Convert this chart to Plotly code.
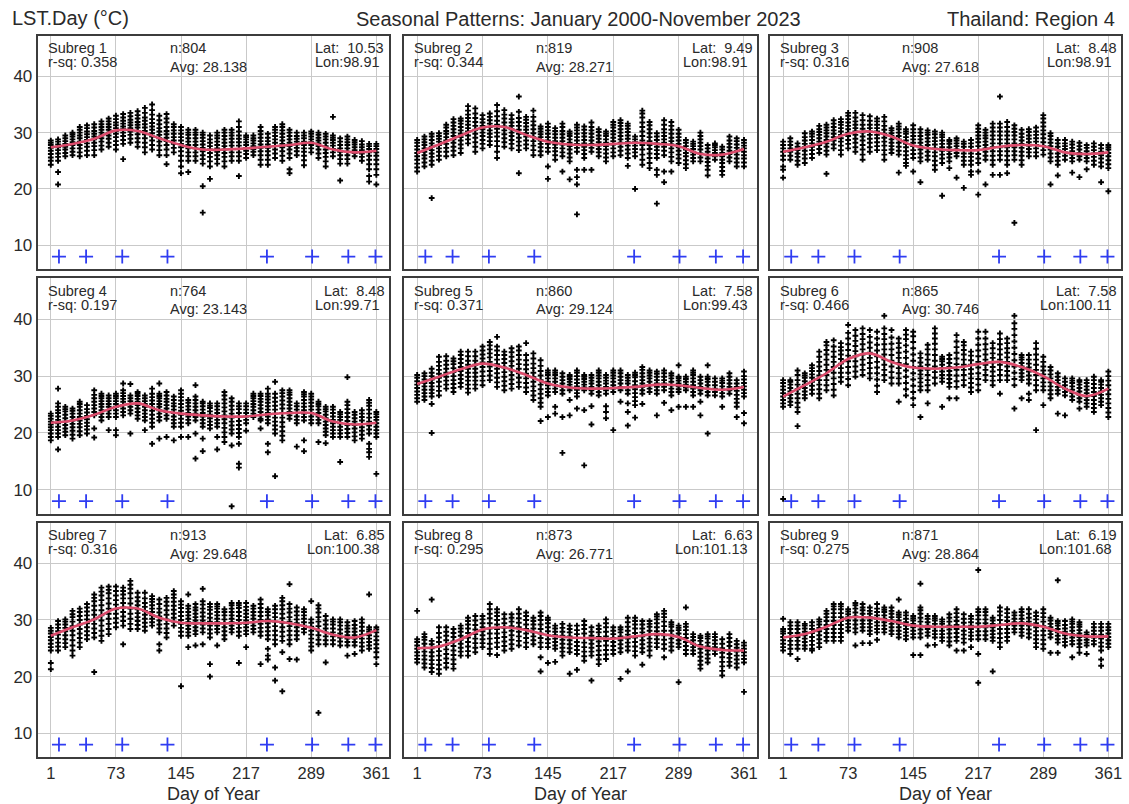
import sys
import plotly.graph_objects as go

W, H = 1129, 804

# ---------------- data ----------------
DAYS = [1, 9, 17, 25, 33, 41, 49, 57, 65, 73, 81, 89, 97, 105, 113, 121, 129, 137, 145, 153,
        161, 169, 177, 185, 193, 201, 209, 217, 225, 233, 241, 249, 257, 265, 273, 281, 289,
        297, 305, 313, 321, 329, 337, 345, 353, 361]
X_TICKS = [1, 73, 145, 217, 289, 361]
Y_TICKS = [10, 20, 30, 40]
CURVE_DAYS = [1, 25, 49, 73, 97, 121, 145, 169, 193, 217, 241, 265, 289, 313, 337, 361]
MARK_DAYS = [10, 40, 80, 130, 240, 290, 330, 360]
MARK_LEVEL = [8, 8, 8, 8, 8, 8, 8, 8]

SUBREG = ["Subreg 1", "Subreg 2", "Subreg 3", "Subreg 4", "Subreg 5", "Subreg 6", "Subreg 7", "Subreg 8", "Subreg 9"]
N_OBS = [804, 819, 908, 764, 860, 865, 913, 873, 871]
RSQ = ["0.358", "0.344", "0.316", "0.197", "0.371", "0.466", "0.316", "0.295", "0.275"]
AVG = ["28.138", "28.271", "27.618", "23.143", "29.124", "30.746", "29.648", "26.771", "28.864"]
LAT = ["10.53", "9.49", "8.48", "8.48", "7.58", "7.58", "6.85", "6.63", "6.19"]
LON = ["98.91", "98.91", "98.91", "99.71", "99.43", "100.11", "100.38", "101.13", "101.68"]

CURVE_1 = [27.4, 28.0, 28.9, 30.4, 30.3, 29.0, 27.8, 27.0, 27.0, 27.2, 27.5, 27.8, 28.2, 27.0, 26.5, 26.8]
CURVE_2 = [26.4, 27.9, 29.5, 30.9, 31.0, 29.6, 28.4, 27.9, 27.8, 28.0, 28.2, 28.0, 27.6, 26.2, 26.1, 27.1]
CURVE_3 = [26.6, 27.4, 28.4, 29.8, 30.2, 29.3, 27.7, 27.1, 26.9, 26.9, 27.5, 27.8, 27.6, 26.5, 26.2, 26.5]
CURVE_4 = [21.8, 22.2, 23.2, 24.6, 25.2, 24.0, 23.4, 23.1, 22.9, 22.9, 23.3, 23.5, 23.5, 22.0, 21.5, 21.8]
CURVE_5 = [28.6, 29.9, 31.2, 32.2, 31.5, 30.2, 28.7, 28.0, 27.8, 27.9, 28.1, 28.5, 28.4, 27.9, 27.6, 28.1]
CURVE_6 = [26.4, 28.4, 30.5, 33.0, 34.0, 32.5, 31.5, 31.3, 31.5, 32.1, 32.5, 31.6, 30.0, 27.8, 26.5, 27.8]
CURVE_7 = [27.2, 28.7, 30.1, 32.0, 32.0, 30.4, 29.5, 29.4, 29.4, 29.5, 29.8, 29.4, 28.6, 27.4, 26.9, 28.2]
CURVE_8 = [25.0, 25.3, 26.6, 28.3, 28.7, 28.2, 27.3, 26.9, 26.8, 26.7, 27.1, 27.5, 27.0, 25.3, 24.7, 24.6]
CURVE_9 = [26.9, 27.5, 28.8, 30.4, 30.4, 29.8, 29.0, 28.8, 28.8, 28.8, 29.1, 29.4, 28.8, 27.6, 27.1, 27.1]

# observed LST values per 8-day composite column (one string per day in DAYS)
OBS_1 = [
    "24.3 25.0 25.6 26.2 26.8 27.3 27.8 28.2 28.6",
    "20.8 23.0 25.0 25.7 26.3 26.9 27.4 27.9 28.4 28.8",
    "25.8 26.4 27.0 27.5 28.0 28.5 29.0 29.5",
    "26.0 26.6 27.2 27.8 28.3 28.8 29.3 29.7 30.0",
    "25.8 26.5 27.2 27.8 28.4 29.0 29.5 30.0 30.5 31.0",
    "26.0 26.8 27.5 28.1 28.7 29.2 29.7 30.2 30.8 31.3",
    "26.0 26.9 27.6 28.2 28.8 29.3 29.8 30.3 30.9 31.5",
    "27.0 27.7 28.4 29.0 29.5 30.0 30.5 31.0 31.5 32.0",
    "27.5 28.2 28.9 29.5 30.0 30.5 31.0 31.5 32.0 32.5",
    "27.0 27.8 28.5 29.2 29.8 30.3 30.8 31.3 31.8 32.4 33.0",
    "25.3 28.0 28.7 29.4 30.0 30.6 31.1 31.6 32.1 32.7 33.3",
    "28.2 28.9 29.6 30.2 30.8 31.3 31.8 32.3 32.9 33.5",
    "27.5 28.3 29.0 29.7 30.3 30.9 31.4 31.9 32.5 33.1 33.8",
    "26.5 27.4 28.2 29.0 29.7 30.3 30.9 31.5 32.1 32.7 33.5 34.4",
    "27.0 27.8 28.6 29.3 29.9 30.5 31.1 31.7 32.4 33.2 34.0 35.0",
    "26.0 26.9 27.7 28.4 29.0 29.6 30.2 30.8 31.5 32.2 33.0",
    "24.4 26.0 27.0 27.8 28.5 29.1 29.7 30.3 31.0 31.8 32.5 33.3",
    "26.5 27.3 28.0 28.6 29.2 29.8 30.4 31.0 31.5",
    "22.8 24.0 25.0 25.9 26.7 27.4 28.0 28.6 29.2 29.8 30.4 31.0",
    "23.0 25.0 25.8 26.5 27.2 27.8 28.4 29.0 29.6 30.0 30.5",
    "25.0 25.8 26.5 27.2 27.8 28.4 29.0 29.6 30.0 30.5",
    "15.8 20.5 24.5 25.3 26.0 26.7 27.3 27.9 28.5 29.1 29.6 30.0",
    "21.8 24.0 24.9 25.7 26.4 27.0 27.6 28.2 28.8 29.5",
    "24.5 25.3 26.0 26.6 27.2 27.8 28.4 29.0 29.5 30.0",
    "24.0 24.9 25.7 26.4 27.0 27.6 28.2 28.8 29.4 30.0 30.5",
    "25.0 25.8 26.5 27.1 27.7 28.3 28.9 29.5 30.0 30.5",
    "22.3 25.0 25.8 26.5 27.1 27.7 28.3 28.9 29.5 30.2 31.0 32.0",
    "25.5 26.2 26.8 27.3 27.8 28.3 28.8 29.2 29.5",
    "26.0 26.6 27.1 27.6 28.1 28.6 29.0 29.5",
    "24.3 25.2 26.0 26.7 27.3 27.9 28.5 29.1 29.7 30.3 31.0",
    "24.3 25.2 26.0 26.7 27.3 27.9 28.5 29.1 29.8",
    "25.5 26.3 27.0 27.6 28.2 28.8 29.4 30.0 30.5 31.0",
    "25.0 25.9 26.7 27.4 28.0 28.6 29.2 29.8 30.4 31.0 31.5",
    "22.8 23.5 25.5 26.3 27.0 27.6 28.2 28.8 29.4 30.0 30.5",
    "26.0 26.7 27.3 27.9 28.4 28.9 29.4 30.0",
    "24.2 25.1 25.9 26.6 27.2 27.8 28.4 29.0 29.5 30.0",
    "26.5 27.2 27.8 28.3 28.8 29.3 29.8 30.2",
    "25.5 26.3 27.0 27.6 28.1 28.6 29.1 29.6 30.0",
    "24.0 24.9 25.7 26.4 27.0 27.6 28.2 28.8 29.3 29.8",
    "25.8 26.5 27.1 27.7 28.2 28.7 29.1 29.5 32.8",
    "21.5 24.5 25.3 26.0 26.6 27.2 27.8 28.4 29.0",
    "24.5 25.3 26.0 26.6 27.2 27.8 28.3 28.8 29.3",
    "25.8 26.4 26.9 27.4 27.9 28.3 28.7",
    "25.0 25.7 26.3 26.9 27.4 27.9 28.5",
    "21.3 22.3 23.5 24.4 25.2 25.9 26.5 27.1 27.6 28.0",
    "20.8 22.5 23.5 24.4 25.2 25.9 26.5 27.1 27.6 28.0",
]

OBS_2 = [
    "23.1 23.8 24.5 25.2 25.8 26.4 27.0 27.6 28.2 28.7",
    "24.0 24.7 25.4 26.0 26.6 27.2 27.8 28.3 28.8 29.3",
    "18.4 24.3 25.0 25.7 26.3 26.9 27.5 28.1 28.7 29.3 29.8",
    "25.2 25.9 26.6 27.2 27.8 28.4 28.9 29.4 29.9",
    "25.8 26.6 27.3 28.0 28.6 29.2 29.8 30.3 30.9 31.4",
    "26.0 26.8 27.5 28.2 28.8 29.4 30.0 30.6 31.2 31.8 32.4",
    "26.4 27.2 27.9 28.6 29.2 29.8 30.4 31.0 31.6 32.1 32.5",
    "28.1 28.8 29.5 30.2 30.8 31.4 32.0 32.6 33.2 33.9 34.7",
    "26.6 27.5 28.3 29.1 29.8 30.5 31.2 31.9 32.6 33.4 34.3",
    "27.2 28.0 28.7 29.4 30.0 30.6 31.2 31.8 32.4 33.1",
    "27.8 28.5 29.2 29.8 30.4 31.0 31.6 32.2 32.8 33.4",
    "25.5 26.6 27.6 28.5 29.3 30.0 30.7 31.4 32.1 32.9 33.8 34.9",
    "27.5 28.3 29.0 29.7 30.4 31.1 31.8 32.5 33.2 34.0",
    "27.2 28.0 28.7 29.4 30.0 30.6 31.2 31.8 32.4 33.1",
    "22.8 26.9 27.7 28.4 29.1 29.8 30.5 31.2 31.9 32.6 33.7 36.4",
    "27.2 27.9 28.6 29.3 29.9 30.5 31.1 31.7 32.3 32.8",
    "26.0 26.9 27.7 28.5 29.2 29.9 30.6 31.3 32.0 32.8 33.9",
    "26.0 26.7 27.4 28.0 28.6 29.2 29.7 30.2 30.7 31.1",
    "21.8 24.0 26.6 27.3 28.0 28.6 29.2 29.8 30.4 31.0 31.6",
    "25.2 26.0 26.7 27.3 27.9 28.5 29.1 29.7 30.3 30.8",
    "23.1 25.8 26.5 27.2 27.9 28.5 29.1 29.7 30.3 31.0 31.6",
    "21.7 24.9 25.6 26.3 27.0 27.6 28.2 28.8 29.4 29.8 30.2",
    "15.5 20.8 22.1 23.4 26.6 27.3 28.0 28.6 29.2 29.8 30.4 30.9 31.4",
    "23.4 25.5 26.2 26.9 27.5 28.1 28.7 29.3 29.9 30.5 31.1",
    "23.4 26.6 27.3 28.0 28.6 29.2 29.8 30.4 31.0 31.8",
    "25.8 26.5 27.1 27.7 28.3 28.9 29.5 30.1 30.6",
    "24.9 25.6 26.3 27.0 27.6 28.2 28.8 29.4 29.8 30.2",
    "25.8 26.5 27.2 27.9 28.5 29.1 29.7 30.3 30.9 31.4 31.9",
    "26.0 26.8 27.5 28.2 28.8 29.4 30.0 30.6 31.2 31.7 32.2",
    "24.1 25.5 26.3 27.0 27.7 28.3 28.9 29.5 30.1 30.7 31.2 31.6",
    "20.0 25.8 26.5 27.1 27.7 28.3 28.8 29.3",
    "24.3 25.2 26.1 27.0 27.8 28.6 29.4 30.2 31.0 31.8 32.7 33.4 33.9",
    "23.7 24.6 25.5 26.3 27.1 27.8 28.5 29.2 29.9 30.6 31.3 31.9",
    "17.4 22.5 23.4 25.5 26.2 26.9 27.5 28.1 28.7 29.3 29.9",
    "21.2 23.1 26.0 26.8 27.5 28.2 28.8 29.4 30.0 30.6 31.4 32.2",
    "23.1 24.9 25.7 26.5 27.2 27.9 28.5 29.1 29.8 30.5 31.2 31.9",
    "24.6 25.4 26.1 26.8 27.4 28.0 28.6 29.2 29.8 30.5",
    "23.7 24.4 25.1 25.8 26.4 27.0 27.6 28.2 28.7",
    "24.9 25.5 26.1 26.6 27.1 27.6 28.0 28.4",
    "24.9 25.6 26.3 27.0 27.6 28.2 28.8 29.4 30.0",
    "22.4 23.4 24.1 24.8 25.4 26.0 26.6 27.2 27.8",
    "25.2 25.8 26.4 26.9 27.4 27.8 28.1",
    "22.5 23.2 23.9 24.6 25.2 25.8 26.4 27.0 27.5",
    "24.9 25.6 26.2 26.8 27.4 28.0 28.6 29.3",
    "24.0 24.7 25.4 26.1 26.7 27.3 27.9 28.5 29.0",
    "24.0 24.7 25.4 26.0 26.6 27.2 27.7 28.2 28.7",
]

OBS_3 = [
    "22.0 23.4 24.0 25.2 25.9 26.6 27.2 27.8 28.4",
    "25.2 25.9 26.6 27.2 27.8 28.4 29.0",
    "24.3 25.0 25.7 26.3 26.9 27.5 28.1",
    "24.6 25.4 26.1 26.8 27.4 28.0 28.6 29.2 29.9",
    "25.5 26.2 26.9 27.5 28.1 28.7 29.3 29.8 30.2",
    "26.4 27.1 27.8 28.4 29.0 29.6 30.1 30.6 31.2",
    "22.7 26.1 26.8 27.5 28.1 28.7 29.3 29.9 30.4 30.9 31.4",
    "27.2 27.9 28.6 29.2 29.8 30.4 31.0 31.6 32.2",
    "26.1 26.9 27.7 28.4 29.0 29.6 30.2 30.8 31.4 31.9 32.4",
    "27.2 28.0 28.7 29.4 30.0 30.6 31.2 31.8 32.4 33.0 33.5",
    "26.6 27.4 28.2 28.9 29.6 30.2 30.8 31.4 32.0 32.7 33.5",
    "25.2 26.1 27.0 27.8 28.6 29.3 30.0 30.7 31.4 32.2 33.1",
    "26.6 27.4 28.2 28.9 29.6 30.2 30.8 31.4 32.1 32.9",
    "26.9 27.6 28.3 29.0 29.6 30.2 30.8 31.4 32.0 32.5",
    "25.2 26.1 26.9 27.7 28.4 29.1 29.8 30.5 31.2 32.0 32.8",
    "26.4 27.0 27.6 28.2 28.8 29.4 29.9 30.4 30.8",
    "22.9 26.1 26.8 27.5 28.2 28.8 29.4 30.0 30.6 31.1 31.6",
    "24.1 24.6 25.3 26.0 26.7 27.4 28.0 28.6 29.2 29.8 30.2 30.6",
    "23.1 25.5 26.2 26.9 27.6 28.2 28.8 29.4 30.0 30.6 31.3",
    "21.2 24.9 25.6 26.3 27.0 27.6 28.2 28.8 29.4 30.0 30.6",
    "25.2 25.9 26.6 27.2 27.8 28.4 29.0 29.6 30.0 30.4",
    "23.4 24.2 25.0 25.8 26.5 27.2 27.9 28.5 29.1 29.7 30.2",
    "18.8 24.6 25.4 26.1 26.8 27.4 28.0 28.6 29.2 29.6 30.0",
    "23.7 24.9 25.6 26.2 26.8 27.4 28.0 28.4 28.7",
    "22.0 25.8 26.4 27.0 27.6 28.1 28.6 29.0",
    "20.2 24.3 25.0 25.7 26.3 26.9 27.5 28.0 28.4",
    "22.5 23.1 24.3 25.0 25.7 26.3 26.9 27.5 28.1 28.7",
    "19.0 23.1 24.6 25.4 26.2 26.9 27.6 28.3 28.9 29.5 30.1 30.7 31.3",
    "20.8 25.2 25.9 26.6 27.2 27.8 28.4 29.0 29.5 30.0 30.5",
    "22.5 24.3 25.1 25.9 26.7 27.4 28.1 28.8 29.5 30.2 30.9 31.6",
    "22.5 25.2 26.0 26.7 27.4 28.1 28.8 29.5 30.2 30.9 31.6 36.4",
    "22.8 24.3 25.1 25.9 26.7 27.4 28.1 28.8 29.5 30.2 31.0 31.9",
    "14.0 25.2 26.0 26.7 27.4 28.1 28.8 29.5 30.1 30.7 31.3",
    "24.3 25.1 25.9 26.6 27.3 28.0 28.6 29.2 29.8 30.5",
    "25.8 26.5 27.1 27.7 28.3 28.9 29.5 30.1 30.6",
    "25.8 26.5 27.2 27.8 28.4 29.0 29.6 30.2 30.9",
    "26.1 26.9 27.6 28.3 29.0 29.7 30.4 31.1 31.8 32.5 33.1",
    "20.8 24.9 25.6 26.3 27.0 27.6 28.2 28.8 29.4 29.9",
    "22.4 24.3 25.0 25.7 26.3 26.9 27.5 28.1 28.7",
    "25.2 25.9 26.5 27.1 27.6 28.1 28.7",
    "22.9 24.9 25.5 26.1 26.7 27.3 27.9 28.4",
    "22.1 25.2 25.8 26.4 27.0 27.6 28.2",
    "23.5 24.9 25.5 26.1 26.7 27.3 27.8",
    "24.3 25.0 25.7 26.3 26.9 27.5 28.1",
    "21.2 24.0 24.7 25.4 26.0 26.6 27.2 27.8",
    "19.6 23.7 24.4 25.1 25.8 26.4 27.0 27.4 27.8",
]

OBS_4 = [
    "18.7 19.3 19.9 20.5 21.0 21.5 22.0 22.5 23.0 23.4",
    "17.1 19.3 19.9 20.5 21.1 21.7 22.3 22.9 23.5 24.0 24.6 25.2 27.8",
    "19.6 20.2 20.8 21.4 22.0 22.6 23.2 23.8 24.2 24.6",
    "19.0 19.7 20.4 21.0 21.6 22.2 22.8 23.4 23.9 24.3",
    "19.6 20.3 21.0 21.6 22.2 22.8 23.4 24.0 24.6 25.1 25.5",
    "19.9 20.6 21.2 21.8 22.4 23.0 23.6 24.2 24.9",
    "19.2 20.8 23.1 23.7 24.3 24.9 25.5 26.1 26.7 27.5",
    "22.2 22.8 23.4 24.0 24.6 25.1 25.6 26.1 26.5 26.9",
    "20.5 22.8 23.4 24.0 24.6 25.1 25.6 26.1 26.6",
    "19.6 20.5 22.8 23.4 24.0 24.6 25.1 25.6 26.1 26.5 26.9",
    "23.1 23.7 24.3 24.9 25.5 26.0 26.5 27.0 27.5 28.7",
    "19.9 23.4 24.0 24.6 25.1 25.6 26.1 26.6 28.6",
    "22.5 23.1 23.7 24.3 24.9 25.5 26.0 26.5 26.9 27.2",
    "20.5 22.2 22.8 23.4 24.0 24.6 25.1 25.6 26.1 26.6",
    "18.1 21.1 21.8 22.5 23.2 23.9 24.5 25.1 25.7 26.3 26.9 27.8",
    "19.0 22.2 22.8 23.4 24.0 24.6 25.1 25.6 26.1 26.5 26.9 28.7",
    "19.3 22.5 23.1 23.7 24.3 24.9 25.5 26.0 26.6 27.2",
    "18.7 21.1 21.7 22.3 22.9 23.5 24.1 24.7 25.2 25.8 26.4",
    "19.3 21.1 21.8 22.5 23.2 23.9 24.5 25.1 25.7 26.3 26.9 27.5",
    "19.3 21.7 22.3 22.9 23.5 24.1 24.7 25.3 25.8",
    "15.5 19.9 22.2 22.8 23.4 24.0 24.6 25.2 25.8 26.4 28.4",
    "16.8 19.0 21.1 21.7 22.3 22.9 23.5 24.1 24.7 25.2 25.5",
    "20.8 21.4 22.0 22.6 23.2 23.8 24.4 24.8 25.2",
    "17.1 19.3 21.1 21.7 22.3 22.9 23.5 24.1 24.7 25.2",
    "18.4 19.3 20.1 20.9 21.7 22.4 23.1 23.8 24.5 25.2 25.9 26.6 27.2",
    "7.1 17.8 19.9 20.6 21.3 22.0 22.7 23.4 24.1 24.8 25.5 26.1",
    "13.9 14.6 18.1 19.3 20.0 20.7 21.4 22.1 22.8 23.5 24.2 24.7 25.2",
    "20.4 21.7 22.3 22.9 23.5 24.1 24.7 25.2",
    "22.8 23.4 24.0 24.6 25.1 25.6 26.1 26.5 26.9",
    "20.8 22.2 22.5 23.1 23.7 24.3 24.9 25.5 26.0 26.5 26.9",
    "16.6 18.1 21.7 22.3 22.9 23.5 24.1 24.7 25.3 25.9 26.4 26.9 27.8",
    "12.4 19.9 20.6 21.3 22.0 22.7 23.4 24.1 24.8 25.5 26.2 26.9 29.0",
    "18.7 19.5 20.3 21.1 21.9 22.7 23.5 24.3 25.0 25.7 26.4 27.0 27.5",
    "22.5 23.1 23.7 24.3 24.9 25.5 26.1 26.7 27.1 27.5",
    "17.6 21.7 22.3 22.9 23.5 24.1 24.7 25.2",
    "16.8 18.7 22.2 22.8 23.4 24.0 24.6 25.2 25.8 26.4 26.8 27.2",
    "21.7 22.3 22.9 23.5 24.1 24.7 25.3 25.9 26.4 26.9",
    "18.4 21.7 22.3 22.9 23.5 24.1 24.7 25.1 25.5",
    "18.2 19.6 20.2 20.8 21.4 22.0 22.6 23.2 23.8 24.2 24.6",
    "19.3 19.9 20.5 21.1 21.7 22.3 22.9 23.5 24.1 24.6",
    "14.9 19.3 19.9 20.5 21.1 21.7 22.3 22.8 23.3 23.7",
    "19.3 20.0 20.7 21.4 22.1 22.8 23.5 24.2 24.9 25.5 29.8",
    "18.7 19.4 20.1 20.8 21.4 22.0 22.6 23.2 23.7",
    "19.0 19.7 20.4 21.0 21.6 22.2 22.8 23.4 24.0",
    "15.8 16.6 17.2 18.1 19.9 20.6 21.3 22.0 22.7 23.4 24.1 24.8 25.3 25.8",
    "12.8 19.3 19.9 20.5 21.1 21.7 22.3 22.8 23.3 23.7",
]

OBS_5 = [
    "25.5 26.1 26.7 27.3 27.9 28.5 29.1 29.7 30.2",
    "25.8 26.4 27.0 27.6 28.2 28.8 29.4 30.0 30.5",
    "20.0 25.1 26.4 27.0 27.6 28.2 28.8 29.4 30.0 30.6 31.3",
    "26.6 27.4 28.2 29.0 29.7 30.4 31.1 31.8 32.5 33.4",
    "27.8 28.5 29.2 29.9 30.6 31.3 32.0 32.7 33.5",
    "27.2 27.9 28.6 29.3 30.0 30.7 31.4 32.1 32.6 33.1",
    "28.1 28.8 29.5 30.2 30.9 31.6 32.3 33.0 33.7 34.3",
    "27.1 27.8 28.5 29.2 29.9 30.6 31.3 32.0 32.7 33.5 34.3",
    "27.8 28.5 29.2 29.9 30.6 31.3 32.0 32.7 33.5 34.3",
    "28.4 29.2 30.0 30.8 31.6 32.4 33.1 33.8 34.5 35.2",
    "29.3 30.1 30.9 31.7 32.5 33.3 34.0 34.7 35.4 36.0",
    "28.1 28.9 29.7 30.5 31.3 32.1 32.9 33.7 34.5 35.2 36.9",
    "27.5 28.3 29.1 29.9 30.7 31.5 32.3 33.0 33.7 34.3",
    "27.8 28.6 29.4 30.2 31.0 31.8 32.6 33.4 34.2 34.9",
    "28.1 28.9 29.7 30.5 31.3 32.1 32.9 33.7 34.5 35.2",
    "27.2 28.0 28.8 29.6 30.4 31.2 32.0 32.8 33.7 35.8",
    "25.8 26.6 27.4 28.2 29.0 29.8 30.6 31.4 32.2 33.1 34.0",
    "22.1 24.6 25.3 26.1 26.9 27.7 28.5 29.3 30.1 30.9 31.8 32.8",
    "22.8 26.6 27.2 27.8 28.4 29.0 29.6 30.2 30.6 31.0",
    "23.4 24.6 27.2 27.8 28.4 29.0 29.6 30.2 30.6 31.0",
    "16.5 22.8 26.9 27.5 28.1 28.7 29.3 29.9 30.5",
    "23.1 25.8 27.5 28.0 28.5 29.0 29.5 29.9 30.2",
    "24.3 26.4 27.0 27.6 28.2 28.8 29.4 30.0 30.6 31.0",
    "14.3 24.0 27.5 28.0 28.5 29.0 29.5 29.9 30.2",
    "21.5 24.7 26.9 27.5 28.1 28.7 29.2 29.7 30.2",
    "26.6 27.2 27.8 28.4 29.0 29.6 30.1 30.6 31.0",
    "22.6 23.7 24.7 26.9 27.5 28.1 28.7 29.2 29.7 30.2",
    "20.5 27.2 27.8 28.4 29.0 29.6 30.1 30.6 31.0",
    "25.5 27.5 28.1 28.7 29.3 29.9 30.5 31.0",
    "21.3 23.7 25.2 26.9 27.5 28.1 28.7 29.2 29.7 30.2",
    "22.7 24.9 25.6 26.3 27.0 27.7 28.4 29.1 29.8 30.2 30.6",
    "25.1 26.9 27.5 28.1 28.7 29.3 29.9 30.5 31.1 31.6",
    "27.2 27.8 28.4 29.0 29.6 30.1 30.6 31.0",
    "23.1 26.9 27.5 28.1 28.7 29.3 29.9 30.4 30.8",
    "25.3 27.5 28.1 28.7 29.3 29.9 30.5 31.0",
    "24.0 26.6 27.2 27.8 28.4 29.0 29.6 30.1 30.5",
    "24.6 27.2 27.7 28.2 28.7 29.2 29.6 29.9 31.9",
    "24.6 27.5 28.0 28.5 29.0 29.5 29.9",
    "24.6 26.6 27.2 27.8 28.4 29.0 29.6 30.2 30.6 31.0",
    "23.1 25.5 26.9 27.5 28.1 28.7 29.3 29.9",
    "19.9 26.6 27.2 27.8 28.4 29.0 29.5 29.9 31.9",
    "26.6 27.2 27.8 28.4 29.0 29.6",
    "24.6 26.4 27.0 27.6 28.2 28.8 29.2 29.6",
    "26.9 27.5 28.1 28.7 29.3 29.9 30.5",
    "22.8 24.6 25.3 26.0 26.7 27.4 28.1 28.7 29.3",
    "21.7 23.5 26.4 27.0 27.6 28.2 28.8 29.4 30.0 30.8",
]

OBS_6 = [
    "8.4 24.6 25.2 25.8 26.4 27.0 27.6 28.2 28.8 29.3",
    "24.9 25.5 26.1 26.7 27.3 27.9 28.5 29.0 29.3",
    "21.2 23.7 24.5 25.3 26.1 26.9 27.7 28.5 29.3 30.2 31.0",
    "26.1 26.7 27.3 27.9 28.5 29.1 29.7 30.1 30.5",
    "26.9 27.6 28.3 29.0 29.7 30.3 30.9 31.4 31.9",
    "26.1 26.9 27.7 28.5 29.3 30.1 30.9 31.7 32.5 33.4 34.3",
    "27.5 28.4 29.3 30.2 31.1 32.0 32.9 33.8 34.6 35.4 36.0",
    "26.6 27.6 28.6 29.6 30.6 31.6 32.5 33.4 34.3 35.2 36.3",
    "29.0 29.8 30.6 31.4 32.2 33.0 33.8 34.5 35.1 35.8",
    "28.4 29.5 30.6 31.6 32.6 33.6 34.6 35.6 36.6 37.6 39.0",
    "29.9 30.8 31.7 32.6 33.5 34.4 35.3 36.2 37.1 38.1",
    "30.2 31.1 32.0 32.9 33.8 34.7 35.6 36.5 37.4 38.4",
    "29.6 30.5 31.4 32.3 33.2 34.1 35.0 35.9 36.9 38.1",
    "27.2 28.3 29.4 30.5 31.5 32.5 33.5 34.5 35.5 36.6 37.8",
    "29.3 30.2 31.1 32.0 32.9 33.8 34.7 35.6 36.5 37.4 38.4 40.6",
    "28.7 29.7 30.7 31.7 32.7 33.7 34.7 35.7 36.8 38.1",
    "25.5 28.7 29.6 30.5 31.4 32.3 33.2 34.1 35.0 35.8 36.6",
    "26.6 27.7 28.8 29.9 31.0 32.1 33.2 34.3 35.4 36.5 37.3 38.1",
    "24.9 26.1 27.2 28.3 29.4 30.5 31.6 32.7 33.8 34.9 36.0 37.0 37.8",
    "22.8 27.5 28.2 28.9 29.6 30.3 31.0 31.7 32.4 33.2 34.0",
    "25.2 27.5 28.4 29.3 30.2 31.1 32.0 32.9 33.8 34.7 35.5",
    "28.7 29.7 30.7 31.7 32.7 33.7 34.7 35.7 36.6 37.5 38.4",
    "24.6 29.0 29.6 30.2 30.8 31.4 32.0 32.6 33.0 33.4",
    "26.1 28.1 28.8 29.5 30.2 30.9 31.6 32.3 33.0 33.7",
    "26.1 28.1 29.1 30.1 31.1 32.1 33.1 34.1 35.1 36.1 37.2",
    "28.4 29.3 30.2 31.1 32.0 32.9 33.8 34.6 35.4 36.0",
    "27.2 28.0 28.8 29.6 30.4 31.2 32.0 32.8 33.6 34.3",
    "27.5 28.5 29.5 30.5 31.5 32.5 33.5 34.5 35.5 36.6 37.8",
    "29.3 30.2 31.1 32.0 32.9 33.8 34.7 35.6 36.6 37.8",
    "28.4 29.2 30.0 30.8 31.6 32.4 33.2 34.0 34.9 35.8",
    "26.9 29.3 30.2 31.1 32.0 32.9 33.8 34.7 35.6 36.5 37.5",
    "29.3 30.1 30.9 31.7 32.5 33.3 34.1 34.9 35.8 36.6",
    "24.3 28.4 29.5 30.6 31.7 32.8 33.9 35.0 36.1 37.2 38.3 39.3 40.6",
    "26.1 29.3 29.9 30.5 31.1 31.7 32.3 32.9 33.3 33.7",
    "25.8 26.9 28.7 29.4 30.1 30.8 31.5 32.2 32.9 33.7",
    "20.5 27.5 28.4 29.3 30.2 31.1 32.0 32.9 33.8 34.8 35.8",
    "24.9 27.5 28.2 28.9 29.6 30.3 31.0 31.7 32.5 33.4",
    "26.1 26.8 27.5 28.2 28.9 29.6 30.3 31.0 31.6",
    "23.4 26.9 27.5 28.1 28.7 29.3 29.9 30.5",
    "23.1 26.6 27.2 27.8 28.4 29.0 29.6",
    "25.8 26.4 27.0 27.6 28.2 28.8 29.2 29.6",
    "24.3 25.5 26.1 26.7 27.3 27.9 28.5 29.0 29.3",
    "24.6 25.2 25.8 26.4 27.0 27.6 28.2 28.8 29.3",
    "23.7 24.4 25.1 25.8 26.5 27.2 27.9 28.6 29.3 29.9",
    "24.9 25.5 26.1 26.7 27.3 27.9 28.5 29.0 29.3",
    "22.8 23.6 24.4 25.2 26.0 26.8 27.6 28.4 29.2 30.0 30.8",
]

OBS_7 = [
    "21.3 22.4 24.6 25.2 25.8 26.4 27.0 27.6 28.1 28.6",
    "24.6 25.3 26.0 26.7 27.4 28.0 28.6 29.2 29.8",
    "25.2 25.9 26.6 27.3 28.0 28.6 29.2 29.7 30.1",
    "23.7 24.6 25.5 26.4 27.3 28.1 28.9 29.7 30.5 31.0 31.6",
    "25.2 26.0 26.8 27.6 28.4 29.2 30.0 30.7 31.4 32.0",
    "26.6 27.3 28.0 28.7 29.4 30.1 30.8 31.5 32.2 32.8",
    "20.8 26.9 27.7 28.5 29.3 30.1 30.9 31.7 32.5 33.3 33.9 34.5",
    "26.3 27.2 28.1 29.0 29.9 30.8 31.7 32.6 33.5 34.3 35.0 35.7",
    "27.5 28.4 29.3 30.2 31.1 32.0 32.9 33.8 34.7 35.3 35.9",
    "28.7 29.5 30.3 31.1 31.9 32.7 33.5 34.3 35.1 35.9",
    "25.7 29.0 29.8 30.6 31.4 32.2 33.0 33.8 34.5 35.1 35.7",
    "28.4 29.3 30.2 31.1 32.0 32.9 33.8 34.7 35.5 36.2 36.9",
    "28.4 29.1 29.8 30.5 31.2 31.9 32.6 33.3 34.0 34.8",
    "28.1 28.8 29.5 30.2 30.9 31.6 32.3 33.0 33.8 34.8",
    "29.0 29.6 30.2 30.8 31.4 32.0 32.6 33.2 33.7 34.2",
    "24.6 25.7 27.8 28.5 29.2 29.9 30.6 31.3 32.0 32.8 33.6",
    "26.9 27.7 28.5 29.3 30.1 30.9 31.7 32.5 33.2 33.9",
    "29.0 29.7 30.4 31.1 31.8 32.5 33.2 33.9 34.5 35.1",
    "18.3 27.2 27.9 28.6 29.3 30.0 30.7 31.4 32.1 32.7 33.3",
    "25.2 27.2 27.8 28.4 29.0 29.6 30.2 30.8 31.4 32.0 32.5 34.5",
    "25.5 27.5 28.1 28.7 29.3 29.9 30.5 31.1 31.7 32.2 32.8",
    "25.7 27.8 28.5 29.2 29.9 30.6 31.3 32.0 32.7 33.3 35.5",
    "20.0 22.2 26.9 27.6 28.3 29.0 29.7 30.4 31.1 31.8 32.3 32.8",
    "25.5 27.8 28.4 29.0 29.6 30.2 30.8 31.4 32.0 32.4 32.8",
    "26.6 27.3 28.0 28.7 29.4 30.1 30.8 31.4 31.9",
    "27.8 28.4 29.0 29.6 30.2 30.8 31.4 32.0 32.6 33.0",
    "22.4 27.2 27.9 28.6 29.3 30.0 30.7 31.4 32.1 32.6 33.0",
    "25.2 27.5 28.1 28.7 29.3 29.9 30.5 31.1 31.7 32.3 33.0",
    "27.8 28.4 29.0 29.6 30.2 30.8 31.4 32.0 32.5",
    "22.2 27.2 27.9 28.6 29.3 30.0 30.7 31.4 32.1 32.8 33.6",
    "23.0 23.7 24.9 26.6 27.3 28.0 28.7 29.4 30.1 30.8 31.4 31.9",
    "19.3 21.6 25.7 26.5 27.3 28.1 28.9 29.7 30.5 31.2 31.9 32.5",
    "17.4 24.3 26.3 27.1 27.9 28.7 29.5 30.3 31.1 31.9 32.6 33.3 33.9",
    "23.1 25.7 26.5 27.3 28.1 28.9 29.7 30.5 31.3 32.0 32.8 36.3",
    "23.0 26.6 27.3 28.0 28.7 29.4 30.1 30.8 31.5 32.2",
    "27.8 28.4 29.0 29.6 30.2 30.8 31.4 31.9",
    "24.6 25.3 26.0 26.7 27.4 28.1 28.8 29.5 30.1 33.3",
    "13.6 25.7 26.5 27.3 28.1 28.9 29.7 30.5 31.3 32.0 32.6",
    "22.5 25.7 26.4 27.1 27.8 28.5 29.2 29.9 30.7",
    "25.7 26.4 27.1 27.8 28.5 29.2 29.7 30.1",
    "25.5 26.2 26.9 27.6 28.3 29.0 29.6 30.1",
    "23.7 25.5 26.1 26.7 27.3 27.9 28.5 29.0 29.6",
    "24.0 25.5 26.1 26.7 27.3 27.9 28.5 29.1 29.8",
    "24.6 25.3 26.0 26.7 27.4 28.1 28.8 29.5 30.1",
    "24.9 25.5 26.1 26.7 27.3 27.9 28.3 28.7 34.5",
    "22.2 23.4 24.3 25.0 25.7 26.4 27.1 27.8 28.3 28.7",
]

OBS_8 = [
    "22.5 23.1 23.7 24.3 24.9 25.5 26.1 26.6 31.6",
    "21.6 22.3 23.0 23.7 24.4 25.1 25.8 26.5 27.0 27.5",
    "20.8 21.5 22.2 22.9 23.6 24.3 25.0 25.7 26.3 33.6",
    "20.5 21.3 22.1 22.9 23.7 24.5 25.3 26.1 26.9 27.7 28.7",
    "21.6 22.4 23.2 24.0 24.8 25.6 26.4 27.2 27.9 28.7",
    "21.4 22.2 23.0 23.8 24.6 25.4 26.2 27.0 27.7 28.4",
    "23.7 24.4 25.1 25.8 26.5 27.2 27.9 28.5 29.0",
    "23.7 24.5 25.3 26.1 26.9 27.7 28.5 29.2 29.8 30.4",
    "24.3 25.1 25.9 26.7 27.5 28.3 29.1 29.9 30.7",
    "25.2 25.9 26.6 27.3 28.0 28.7 29.4 30.1 30.7",
    "24.0 24.9 25.8 26.7 27.6 28.5 29.4 30.3 31.1 31.9 32.8",
    "23.8 25.2 26.0 26.8 27.6 28.4 29.2 30.0 30.7 31.3 31.9",
    "24.6 25.4 26.2 27.0 27.8 28.6 29.4 30.2 31.0",
    "24.9 25.7 26.5 27.3 28.1 28.9 29.7 30.4 31.0",
    "25.5 26.3 27.1 27.9 28.7 29.5 30.3 31.1 31.9",
    "25.2 26.0 26.8 27.6 28.4 29.2 30.0 30.7 31.3",
    "25.7 26.4 27.1 27.8 28.5 29.2 29.8 30.4",
    "20.9 23.4 25.2 26.0 26.8 27.6 28.4 29.2 30.0 30.7 31.3",
    "22.4 25.2 25.9 26.6 27.3 28.0 28.7 29.4 30.0 30.4",
    "22.6 24.9 25.5 26.1 26.7 27.3 27.9 28.5 29.0",
    "23.7 24.4 25.1 25.8 26.5 27.2 27.9 28.6 29.3",
    "20.5 24.3 25.0 25.7 26.4 27.1 27.8 28.4 29.0",
    "21.2 24.0 24.7 25.4 26.1 26.8 27.5 28.2 29.0",
    "22.8 23.6 24.4 25.2 26.0 26.8 27.6 28.4 29.1 29.8",
    "19.3 23.7 24.4 25.1 25.8 26.5 27.2 27.9 28.7",
    "22.2 23.0 23.8 24.6 25.4 26.2 27.0 27.8 28.4 29.0",
    "23.1 23.9 24.7 25.5 26.3 27.1 27.9 28.7 29.4 30.1",
    "24.0 24.7 25.4 26.1 26.8 27.5 28.1 28.7",
    "19.6 24.3 25.0 25.7 26.4 27.1 27.8 28.3 28.7",
    "20.9 24.6 25.3 26.0 26.7 27.4 28.1 28.8 29.6 30.4",
    "23.7 24.5 25.3 26.1 26.9 27.7 28.5 29.2 29.8 30.4",
    "22.1 24.3 25.0 25.7 26.4 27.1 27.8 28.5 29.2 29.8",
    "23.7 24.6 25.3 26.0 26.7 27.4 28.1 28.8 29.3 29.8",
    "25.2 25.9 26.6 27.3 28.0 28.7 29.4 30.1 30.6 31.0",
    "23.4 24.9 25.7 26.5 27.3 28.1 28.9 29.7 30.5 31.1 31.6",
    "24.6 25.3 26.0 26.7 27.4 28.1 28.8 29.2 29.6",
    "19.0 25.2 25.8 26.4 27.0 27.6 28.2 28.6 29.0",
    "24.0 24.7 25.4 26.1 26.8 27.5 28.2 28.8 29.3 32.2",
    "24.0 24.6 25.2 25.8 26.4 27.0 27.5",
    "21.4 22.1 22.8 23.5 24.2 24.9 25.6 26.3 26.8 27.2",
    "22.5 23.2 23.9 24.6 25.3 26.0 26.7 27.1 27.5",
    "24.0 24.6 25.2 25.8 26.4 27.0 27.5",
    "20.2 21.0 21.8 22.6 23.4 24.2 25.0 25.8 26.6",
    "21.9 22.6 23.3 24.0 24.7 25.4 26.1 26.8 27.5",
    "21.6 22.3 23.0 23.7 24.4 25.1 25.7 26.3",
    "17.3 22.5 23.1 23.7 24.3 24.9 25.5 26.0",
]

OBS_9 = [
    "24.6 25.2 25.8 26.4 27.0 27.6 28.0 28.4 30.2",
    "24.0 24.9 25.6 26.3 27.0 27.7 28.4 29.0 29.6",
    "23.1 24.9 25.6 26.3 27.0 27.7 28.4 29.0 29.6",
    "24.9 25.5 26.1 26.7 27.3 27.9 28.5 29.0 29.3",
    "24.6 24.9 25.6 26.3 27.0 27.7 28.4 29.0 29.6",
    "25.2 25.9 26.6 27.3 28.0 28.6 29.2 29.7 30.1",
    "26.3 27.0 27.7 28.4 29.1 29.8 30.5 31.1 31.6",
    "26.3 27.0 27.7 28.4 29.1 29.8 30.5 31.2 31.9 32.4 32.8",
    "26.3 27.0 27.7 28.4 29.1 29.8 30.5 31.2 31.9 32.4 32.8",
    "28.1 28.7 29.3 29.9 30.5 31.0 31.5 31.9",
    "25.5 27.8 28.5 29.2 29.9 30.6 31.3 32.0 32.6 33.0",
    "25.9 28.1 28.7 29.3 29.9 30.5 31.1 31.7 32.2 32.8",
    "25.9 27.5 28.1 28.7 29.3 29.9 30.5 31.1 31.6 32.2",
    "26.5 27.8 28.4 29.0 29.6 30.2 30.8 31.4 32.0 32.8",
    "27.8 28.4 29.0 29.6 30.2 30.8 31.4 31.8 32.2",
    "27.5 28.1 28.7 29.3 29.9 30.5 31.1 31.6 32.2",
    "26.9 27.5 28.1 28.7 29.3 29.9 30.5 30.9 31.3 33.6",
    "26.6 27.2 27.8 28.4 29.0 29.6 30.2 30.8 31.3",
    "23.8 26.9 27.5 28.1 28.7 29.3 29.9 30.3 30.7",
    "23.8 26.9 27.6 28.3 29.0 29.7 30.4 31.1 31.7 32.2 36.4",
    "25.5 27.2 27.8 28.4 29.0 29.6 30.2 30.7",
    "25.6 26.9 27.5 28.1 28.7 29.3 29.9 30.3 30.7",
    "26.3 26.9 27.5 28.1 28.7 29.3 29.7 30.1",
    "25.5 26.2 26.9 27.6 28.3 29.0 29.7 30.4 31.0",
    "24.6 26.3 27.0 27.7 28.4 29.1 29.8 30.5 31.2 31.9",
    "24.6 26.0 26.7 27.4 28.1 28.8 29.5 30.2 31.0",
    "25.2 26.6 27.2 27.8 28.4 29.0 29.6 30.2 30.7",
    "18.9 24.0 26.6 27.3 28.0 28.7 29.4 30.1 30.8 31.4 31.9 38.8",
    "26.6 27.3 28.0 28.7 29.4 30.1 30.8 31.4 31.9",
    "20.9 26.3 26.9 27.5 28.1 28.7 29.3 29.9 30.4",
    "25.2 26.0 26.8 27.6 28.4 29.2 30.0 30.8 31.5 32.2",
    "26.3 27.0 27.7 28.4 29.1 29.8 30.5 31.2 31.9",
    "27.8 28.4 29.0 29.6 30.2 30.8 31.3",
    "27.2 27.8 28.4 29.0 29.6 30.2 30.8 31.4 31.9",
    "26.9 27.6 28.3 29.0 29.7 30.4 31.1 31.9",
    "25.2 25.9 26.6 27.3 28.0 28.7 29.4 30.1 30.7 31.3",
    "24.9 25.7 26.5 27.3 28.1 28.9 29.7 30.5 31.2 31.9",
    "24.2 26.9 27.5 28.1 28.7 29.3 29.9 30.4",
    "24.2 26.0 26.6 27.2 27.8 28.4 29.0 29.4 29.8 37.0",
    "25.5 26.1 26.7 27.3 27.9 28.5 29.1 29.8",
    "23.4 25.7 26.3 26.9 27.5 28.1 28.7 29.3 29.7 30.1",
    "24.2 25.2 25.8 26.4 27.0 27.6 28.2 28.8 29.2 29.6",
    "24.0 25.5 26.0 26.5 27.0 27.4 27.8",
    "25.7 26.3 26.9 27.5 28.1 28.7 29.3",
    "21.9 23.0 24.6 25.3 26.0 26.7 27.4 28.1 28.7 29.3",
    "25.2 25.8 26.4 27.0 27.6 28.2 28.7 29.3",
]

CURVES = [CURVE_1, CURVE_2, CURVE_3, CURVE_4, CURVE_5, CURVE_6, CURVE_7, CURVE_8, CURVE_9]
OBS = [OBS_1, OBS_2, OBS_3, OBS_4, OBS_5, OBS_6, OBS_7, OBS_8, OBS_9]

# ---------------- layout constants (pixels) ----------------
COL_PX = [(37.7, 389.0), (404.0, 756.7), (770.0, 1121.0)]
ROW_PX = [(35.7, 269.3), (278.3, 514.0), (522.5, 757.3)]
X_RANGE = [-13.5, 375]
Y_RANGE = [5.75, 47.2]

FONT = "Liberation Sans, Arial, sans-serif"
TXT = "#2a2a2a"
DOT = "#000000"
RED = "#dc4c6c"
BLUE = "#2f3cf2"
GRID = "#c9c9c9"
FRAME = "#3c3c3c"


def fx(px):
    return px / W


def fy(py):
    return 1 - py / H


fig = go.Figure()
layout = dict(
    width=W, height=H, autosize=False,
    margin=dict(l=0, r=0, t=0, b=0),
    paper_bgcolor="white", plot_bgcolor="white",
    showlegend=False,
    font=dict(family=FONT, color=TXT),
)
annotations = []

for i in range(9):
    r, c = divmod(i, 3)
    sfx = "" if i == 0 else str(i + 1)
    xa, ya = "x" + sfx, "y" + sfx
    (x0, x1), (y0, y1) = COL_PX[c], ROW_PX[r]

    if len(OBS[i]) != len(DAYS):
        print("warning: panel", i + 1, "has", len(OBS[i]), "columns", file=sys.stderr)
    xs, ys = [], []
    for d, col in zip(DAYS, OBS[i]):
        for v in col.split():
            xs.append(d)
            ys.append(float(v))

    fig.add_trace(go.Scatter(
        x=xs, y=ys, mode="markers", xaxis=xa, yaxis=ya,
        marker=dict(symbol="cross", size=4.8, color=DOT, line=dict(width=0)),
        hoverinfo="skip"))
    fig.add_trace(go.Scatter(
        x=CURVE_DAYS, y=CURVES[i], mode="lines", xaxis=xa, yaxis=ya,
        line=dict(color=RED, width=2.6, shape="spline", smoothing=1.0),
        hoverinfo="skip"))
    fig.add_trace(go.Scatter(
        x=MARK_DAYS, y=MARK_LEVEL, mode="markers", xaxis=xa, yaxis=ya,
        marker=dict(symbol="cross-thin", size=10, color=BLUE,
                    line=dict(color=BLUE, width=1.8)),
        hoverinfo="skip"))

    layout["xaxis" + sfx] = dict(
        domain=[fx(x0), fx(x1)], anchor=ya, range=X_RANGE,
        tickvals=X_TICKS, ticktext=[str(t) for t in X_TICKS],
        showticklabels=(r == 2), ticks="",
        tickfont=dict(size=16.5, color=TXT, family=FONT),
        showgrid=True, gridcolor=GRID, gridwidth=1, zeroline=False,
        showline=True, mirror=True, linecolor=FRAME, linewidth=2,
    )
    layout["yaxis" + sfx] = dict(
        domain=[fy(y1), fy(y0)], anchor=xa, range=Y_RANGE,
        tickvals=Y_TICKS, ticktext=[str(t) for t in Y_TICKS],
        showticklabels=(c == 0), ticks="",
        tickfont=dict(size=17, color=TXT, family=FONT),
        showgrid=True, gridcolor=GRID, gridwidth=1, zeroline=False,
        showline=True, mirror=True, linecolor=FRAME, linewidth=2,
    )

    small = dict(size=14.5, color=TXT, family=FONT)
    annotations += [
        dict(text=SUBREG[i], x=fx(x0 + 8), y=fy(y0 + 12.5), xanchor="left", yanchor="middle"),
        dict(text="r-sq: " + RSQ[i], x=fx(x0 + 8), y=fy(y0 + 26.5), xanchor="left", yanchor="middle"),
        dict(text="n:" + str(N_OBS[i]), x=fx(x0 + 130), y=fy(y0 + 12.5), xanchor="left", yanchor="middle"),
        dict(text="Avg: " + AVG[i], x=fx(x0 + 130), y=fy(y0 + 31), xanchor="left", yanchor="middle"),
        dict(text="Lat:\u00a0\u00a0" + LAT[i], x=fx(x1 - 3), y=fy(y0 + 12.5), xanchor="right", yanchor="middle"),
        dict(text="Lon:" + LON[i], x=fx(x1 - 7), y=fy(y0 + 26.5), xanchor="right", yanchor="middle"),
    ]
    for a in annotations[-6:]:
        a.update(xref="paper", yref="paper", showarrow=False, font=small)

for c in range(3):
    x0, x1 = COL_PX[c]
    annotations.append(dict(text="Day of Year", x=fx((x0 + x1) / 2), y=fy(793.5),
                            xref="paper", yref="paper", showarrow=False,
                            xanchor="center", yanchor="middle",
                            font=dict(size=18, color=TXT, family=FONT)))

big = dict(size=20, color=TXT, family=FONT)
annotations += [
    dict(text="LST.Day (°C)", x=fx(10), y=fy(18), xanchor="left", yanchor="middle"),
    dict(text="Seasonal Patterns: January 2000-November 2023", x=fx(578), y=fy(19),
         xanchor="center", yanchor="middle"),
    dict(text="Thailand: Region 4", x=fx(1117), y=fy(19), xanchor="right", yanchor="middle"),
]
for a in annotations[-3:]:
    a.update(xref="paper", yref="paper", showarrow=False, font=big)

layout["annotations"] = annotations
fig.update_layout(**layout)

# the page's default 8px body margin would shift the 1129x804 figure; remove it
fig.write_html("out.html",
               config={"displayModeBar": False},
               post_script="document.body.style.margin='0px';document.body.style.overflow='hidden';")
